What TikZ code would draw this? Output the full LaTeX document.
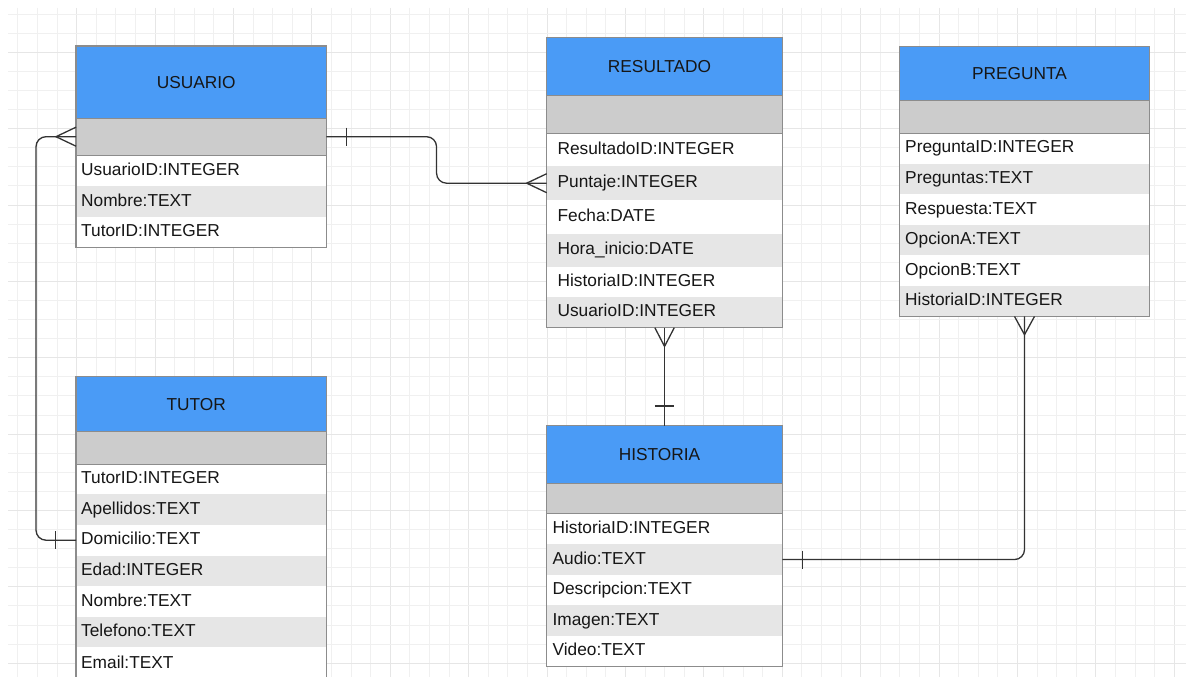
\documentclass[tikz,border=0pt]{standalone}
\usepackage{fontspec}
\setmainfont{Liberation Sans}
\usetikzlibrary{calc}

\definecolor{hdrblue}{RGB}{74,155,246}
\definecolor{keygray}{RGB}{204,204,204}
\definecolor{rowgray}{RGB}{230,230,230}
\definecolor{edgegray}{RGB}{140,140,140}
\definecolor{linkgray}{RGB}{51,51,51}
\definecolor{gridminor}{RGB}{240,240,240}
\definecolor{gridmajor}{RGB}{230,230,230}
\definecolor{inkblack}{RGB}{22,22,22}

\tikzset{
  erfont/.style={font=\fontsize{17.3}{20}\selectfont, text=inkblack},
  hdr/.style={erfont, anchor=north west, fill=hdrblue, inner sep=0pt,
    text height=12.4pt, text depth=0pt},
  keyrow/.style={anchor=north west, fill=keygray, inner sep=0pt},
  field/.style={erfont, anchor=north west, inner ysep=0pt,
    text height=12.4pt, text depth=3pt, align=left},
  tblframe/.style={draw=edgegray, line width=1.2pt},
  rel/.style={draw=linkgray, line width=1.3pt},
  gminor/.style={draw=gridminor, line width=0.9pt},
  gmajor/.style={draw=gridmajor, line width=1pt},
}

% table pieces: name, x, y (top left), width, height, ...
\newcommand\erhead[6]{%
  \node[hdr, minimum width=#4pt, minimum height=#5pt] (#1) at (#2,#3) {#6\hspace*{10pt}};}
\newcommand\erkey[5]{%
  \node[keyrow, minimum width=#4pt, minimum height=#5pt] (#1) at (#2,#3) {};}
% field row: name, x, y, width, height, padding, fill, text
\newcommand\erfield[8]{%
  \pgfmathsetmacro\ertw{#4-2*#6}%
  \node[field, fill=#7, minimum height=#5pt, text width=\ertw pt, inner xsep=#6pt]
    (#1) at (#2,#3) {#8};}
% frame of a table: header node, key node, last field node
\newcommand\erframe[3]{%
  \draw[tblframe] (#1.north west) rectangle (#3.south east);
  \draw[tblframe] (#1.south west) -- (#1.south east);
  \draw[tblframe] (#2.south west) -- (#2.south east);}

\begin{document}
\begin{tikzpicture}[x=1pt, y=-1pt]
\useasboundingbox (0,0) rectangle (1186,677);
\fill[white] (0,0) rectangle (1186,677);

% background grid
\begin{scope}
  \clip (8,8) rectangle (1186,677);
  \foreach \k in {-19,...,40} {
    \pgfmathsetmacro\gx{390.3+19.6*\k}
    \pgfmathtruncatemacro\gm{mod(\k+40,4)}
    \ifnum\gm=0 \draw[gmajor] (\gx,8) -- (\gx,677);
    \else \draw[gminor] (\gx,8) -- (\gx,677); \fi
  }
  \foreach \k in {-2,...,32} {
    \pgfmathsetmacro\gy{52.3+19.09*\k}
    \pgfmathtruncatemacro\gm{mod(\k+40,4)}
    \ifnum\gm=0 \draw[gmajor] (8,\gy) -- (1186,\gy);
    \else \draw[gminor] (8,\gy) -- (1186,\gy); \fi
  }
\end{scope}

% USUARIO
\erhead{usuario-h}{76}{46}{250}{71.7}{USUARIO}
\erkey{usuario-k}{76}{117.7}{250}{37.6}
\erfield{usuario-f1}{76}{155.3}{250}{30.6}{5}{white}{UsuarioID:INTEGER}
\erfield{usuario-f2}{76}{185.9}{250}{30.6}{5}{rowgray}{Nombre:TEXT}
\erfield{usuario-f3}{76}{216.5}{250}{30.6}{5}{white}{TutorID:INTEGER}
\erframe{usuario-h}{usuario-k}{usuario-f3}

% RESULTADO
\erhead{resultado-h}{546.7}{37.3}{235.3}{57.4}{RESULTADO}
\erkey{resultado-k}{546.7}{94.7}{235.3}{38}
\erfield{resultado-f1}{546.7}{132.7}{235.3}{33.3}{10.7}{white}{ResultadoID:INTEGER}
\erfield{resultado-f2}{546.7}{166}{235.3}{34}{10.7}{rowgray}{Puntaje:INTEGER}
\erfield{resultado-f3}{546.7}{200}{235.3}{33.3}{10.7}{white}{Fecha:DATE}
\erfield{resultado-f4}{546.7}{233.3}{235.3}{33.4}{10.7}{rowgray}{Hora\_inicio:DATE}
\erfield{resultado-f5}{546.7}{266.7}{235.3}{30}{10.7}{white}{HistoriaID:INTEGER}
\erfield{resultado-f6}{546.7}{296.7}{235.3}{30.6}{10.7}{rowgray}{UsuarioID:INTEGER}
\erframe{resultado-h}{resultado-k}{resultado-f6}

% PREGUNTA
\erhead{pregunta-h}{899.3}{46.7}{250}{53.3}{PREGUNTA}
\erkey{pregunta-k}{899.3}{100}{250}{32.7}
\erfield{pregunta-f1}{899.3}{132.7}{250}{30.6}{5.7}{white}{PreguntaID:INTEGER}
\erfield{pregunta-f2}{899.3}{163.3}{250}{30.7}{5.7}{rowgray}{Preguntas:TEXT}
\erfield{pregunta-f3}{899.3}{194}{250}{31}{5.7}{white}{Respuesta:TEXT}
\erfield{pregunta-f4}{899.3}{225}{250}{30}{5.7}{rowgray}{OpcionA:TEXT}
\erfield{pregunta-f5}{899.3}{255}{250}{31}{5.7}{white}{OpcionB:TEXT}
\erfield{pregunta-f6}{899.3}{286}{250}{30}{5.7}{rowgray}{HistoriaID:INTEGER}
\erframe{pregunta-h}{pregunta-k}{pregunta-f6}

% TUTOR
\erhead{tutor-h}{76}{376.7}{250}{54}{TUTOR}
\erkey{tutor-k}{76}{430.7}{250}{33.3}
\erfield{tutor-f1}{76}{464}{250}{30}{5}{white}{TutorID:INTEGER}
\erfield{tutor-f2}{76}{494}{250}{30.7}{5}{rowgray}{Apellidos:TEXT}
\erfield{tutor-f3}{76}{524.7}{250}{30.6}{5}{white}{Domicilio:TEXT}
\erfield{tutor-f4}{76}{555.3}{250}{30.7}{5}{rowgray}{Edad:INTEGER}
\erfield{tutor-f5}{76}{586}{250}{30.7}{5}{white}{Nombre:TEXT}
\erfield{tutor-f6}{76}{616.7}{250}{30}{5}{rowgray}{Telefono:TEXT}
\erfield{tutor-f7}{76}{646.7}{250}{34}{5}{white}{Email:TEXT}
\erframe{tutor-h}{tutor-k}{tutor-f7}

% HISTORIA
\erhead{historia-h}{546.7}{425.7}{235.3}{57.6}{HISTORIA}
\erkey{historia-k}{546.7}{483.3}{235.3}{30}
\erfield{historia-f1}{546.7}{513.3}{235.3}{30.7}{5.7}{white}{HistoriaID:INTEGER}
\erfield{historia-f2}{546.7}{544}{235.3}{30.7}{5.7}{rowgray}{Audio:TEXT}
\erfield{historia-f3}{546.7}{574.7}{235.3}{30.3}{5.7}{white}{Descripcion:TEXT}
\erfield{historia-f4}{546.7}{605}{235.3}{30.3}{5.7}{rowgray}{Imagen:TEXT}
\erfield{historia-f5}{546.7}{635.3}{235.3}{30.7}{5.7}{white}{Video:TEXT}
\erframe{historia-h}{historia-k}{historia-f5}

% USUARIO (1) -- RESULTADO (N)
\draw[rel, rounded corners=10pt] (usuario-k.east)
  -| ($(usuario-k.east)!0.5!(resultado-f2.west)$) |- (resultado-f2.west);
\draw[rel] ([xshift=20pt]usuario-k.east) ++(0,-9) -- ++(0,18);
\draw[rel] ([yshift=9.5pt]resultado-f2.west) -- ([xshift=-20pt]resultado-f2.west)
  -- ([yshift=-9.5pt]resultado-f2.west);

% TUTOR (1) -- USUARIO (N)
\draw[rel, rounded corners=10pt] (usuario-k.west) -- ([xshift=-40pt]usuario-k.west)
  |- (tutor-f3.west);
\draw[rel] ([yshift=9.5pt]usuario-k.west) -- ([xshift=-20pt]usuario-k.west)
  -- ([yshift=-9.5pt]usuario-k.west);
\draw[rel] ([xshift=-20.3pt]tutor-f3.west) ++(0,-9) -- ++(0,18);

% HISTORIA (1) -- RESULTADO (N)
\draw[rel] (resultado-f6.south) -- (historia-h.north);
\draw[rel] ([xshift=-9.7pt]resultado-f6.south) -- ([yshift=-18.7pt]resultado-f6.south)
  -- ([xshift=9.7pt]resultado-f6.south);
\draw[rel] ([yshift=19.7pt]historia-h.north) ++(-9.8,0) -- ++(19.6,0);

% HISTORIA (1) -- PREGUNTA (N)
\draw[rel, rounded corners=10pt] (pregunta-f6.south) |- (historia-f2.east);
\draw[rel] ([xshift=-10pt]pregunta-f6.south) -- ([yshift=-18.3pt]pregunta-f6.south)
  -- ([xshift=10pt]pregunta-f6.south);
\draw[rel] ([xshift=20pt]historia-f2.east) ++(0,-9) -- ++(0,18);
\end{tikzpicture}
\end{document}
